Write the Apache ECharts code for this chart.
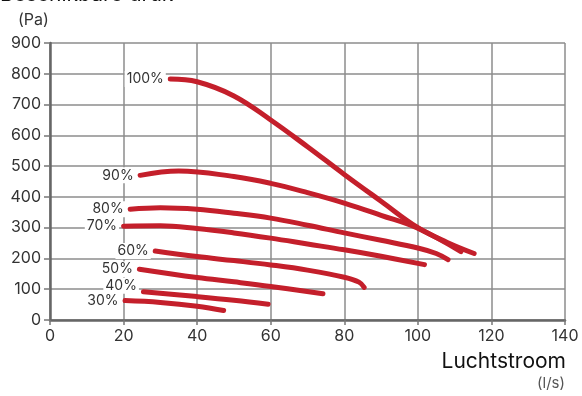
<!DOCTYPE html>
<html>
<head>
<meta charset="utf-8">
<script src="https://cdn.jsdelivr.net/npm/echarts@6/dist/echarts.min.js"></script>
<style>
  html, body { margin: 0; padding: 0; background: #fff; }
  #chart { width: 582px; height: 396px; }
</style>
</head>
<body>
<div id="chart"></div>
<script>
// fan speed curves: airflow (l/s) vs available pressure (Pa)
var levels = ['100%', '90%', '80%', '70%', '60%', '50%', '40%', '30%'];

var flow100 = [32.7, 40, 50, 60, 70, 80, 90, 100, 108, 115.3];
var pres100 = [783, 774, 728, 650, 563, 473, 386, 300, 252, 216];

var flow90 = [24.5, 35, 50, 60, 70, 80, 90, 100, 111.7];
var pres90 = [470, 484, 466, 444, 414, 380, 340, 298, 222];

var flow80 = [21.8, 30, 40, 50, 60, 70, 80, 90, 100, 105, 108.2];
var pres80 = [360, 365, 360, 347, 331, 308, 283, 259, 234, 216, 196];

var flow70 = [20, 30, 40, 50, 60, 70, 80, 90, 101.8];
var pres70 = [305, 306, 297, 283, 266, 247, 228, 207, 180];

var flow60 = [28.6, 40, 50, 60, 70, 80, 84, 85.4];
var pres60 = [224, 206, 193, 179, 162, 139, 123, 106];

var flow50 = [24.3, 40, 50, 60, 74.2];
var pres50 = [165, 138, 124, 109, 85];

var flow40 = [25.4, 40, 50, 59.3];
var pres40 = [92, 76, 64, 51];

var flow30 = [20.4, 30, 40, 47.2];
var pres30 = [63, 57, 45, 31];

var xTicks = [0, 20, 40, 60, 80, 100, 120, 140];
var yTicks = [0, 100, 200, 300, 400, 500, 600, 700, 800, 900];

var flows = [flow100, flow90, flow80, flow70, flow60, flow50, flow40, flow30];
var pressures = [pres100, pres90, pres80, pres70, pres60, pres50, pres40, pres30];

var chart = echarts.init(document.getElementById('chart'));
var red = '#c41f2b';
var txt = '#333';
var font = 'Inter, "Noto Sans", sans-serif';

// 40% label sits a bit higher than its start point
var labelOffset = { '40%': [0, -6] };

var series = levels.map(function (name, i) {
  var data = flows[i].map(function (x, j) {
    var pt = [x, pressures[i][j]];
    if (j === 0) {
      return {
        value: pt,
        label: {
          show: true,
          position: 'left',
          distance: 4,
          offset: labelOffset[name] || [0, 0],
          formatter: name,
          color: txt,
          fontFamily: font,
          fontSize: 14,
          backgroundColor: '#fff',
          padding: [1, 2]
        }
      };
    }
    return pt;
  });
  return {
    name: name,
    type: 'line',
    smooth: 0.4,
    symbol: 'circle',
    symbolSize: 1,
    itemStyle: { color: red },
    lineStyle: { color: red, width: 5, cap: 'round' },
    animation: false,
    data: data
  };
});

var option = {
  animation: false,
  grid: { left: 50, right: 17, top: 43, bottom: 76 },
  graphic: [
    { type: 'text', left: 0, top: -16, style: { text: 'Beschikbare druk', font: '21px ' + font, fill: '#111' } },
    { type: 'text', left: 18, top: 12, style: { text: '(Pa)', font: '16px ' + font, fill: txt } },
    { type: 'text', right: 16, top: 351, style: { text: 'Luchtstroom', font: '21px ' + font, fill: '#111' } },
    { type: 'text', right: 17, top: 376, style: { text: '(l/s)', font: '15px ' + font, fill: '#555' } }
  ],
  xAxis: {
    type: 'value',
    min: 0,
    max: 140,
    interval: 20,
    axisLine: { show: true, lineStyle: { color: '#666', width: 2.5 } },
    axisTick: { show: true, length: 5, lineStyle: { color: '#777', width: 1.5 } },
    axisLabel: { color: txt, fontSize: 16, fontFamily: font, margin: 8,
      customValues: xTicks },
    splitLine: { show: true, lineStyle: { color: '#8c8c8c', width: 1.5 } }
  },
  yAxis: {
    type: 'value',
    min: 0,
    max: 900,
    interval: 100,
    axisLine: { show: true, lineStyle: { color: '#666', width: 2.5 } },
    axisTick: { show: true, length: 6, lineStyle: { color: '#777', width: 1.5 } },
    axisLabel: { color: txt, fontSize: 16, fontFamily: font, margin: 9,
      customValues: yTicks },
    splitLine: { show: true, lineStyle: { color: '#8c8c8c', width: 1.5 } }
  },
  series: series
};

chart.setOption(option);
</script>
</body>
</html>
